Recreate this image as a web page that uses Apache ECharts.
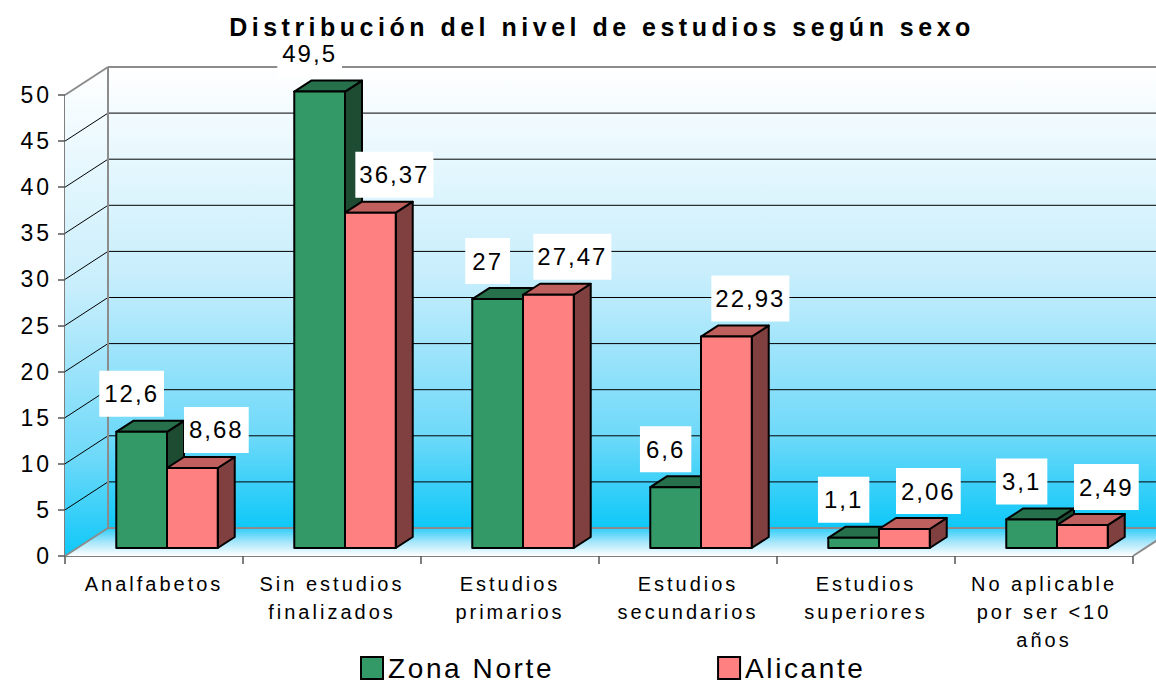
<!DOCTYPE html>
<html>
<head>
<meta charset="utf-8">
<script src="https://cdn.jsdelivr.net/npm/echarts@6/dist/echarts.min.js"></script>
<style>
  html, body { margin: 0; padding: 0; background: #fff; }
  #grafico { width: 1156px; height: 682px; }
  /* el original tiene el texto espaciado */
  #grafico text { letter-spacing: 3px; }
  #grafico text[style*="25px"] { letter-spacing: 4.5px; }
  #grafico text[style*="24px"] { letter-spacing: 2px; }
  #grafico text[style*="28px"] { letter-spacing: 2.6px; }
</style>
</head>
<body>
<div id="grafico"></div>
<script>
// datos
var categorias = ['Analfabetos', 'Sin estudios\nfinalizados', 'Estudios\nprimarios',
  'Estudios\nsecundarios', 'Estudios\nsuperiores', 'No aplicable\npor ser <10\naños'];
var zonaNorte = [12.6, 49.5, 27, 6.6, 1.1, 3.1];
var alicante = [8.68, 36.37, 27.47, 22.93, 2.06, 2.49];
var ticksY = [0, 5, 10, 15, 20, 25, 30, 35, 40, 45, 50];

var FUENTE = 'Liberation Sans, Arial, sans-serif';
// desplazamientos de la perspectiva (px)
var FONDO = [43, -28];      // pared del fondo
var PLANO_BARRA = [13, -8]; // cara frontal de las barras
var LADO = [17, -11];       // profundidad de cada barra

var myChart = echarts.init(document.getElementById('grafico'), null, { renderer: 'svg' });

function gradPared() {
  return new echarts.graphic.LinearGradient(0, 0, 0, 1, [
    { offset: 0, color: '#FFFFFF' },
    { offset: 0.45, color: '#C8EEFC' },
    { offset: 0.8, color: '#6ED9F9' },
    { offset: 1, color: '#0EC8F8' }
  ]);
}

function pintarParedes(params, api) {
  var cs = params.coordSys;
  var L = cs.x, R = cs.x + cs.width;
  var y0 = api.coord([0, ticksY[0]])[1];
  var yTop = api.coord([0, ticksY[ticksY.length - 1]])[1];
  var dx = FONDO[0], dy = FONDO[1];
  var gris = { stroke: '#8C8C8C', lineWidth: 2 };
  var hijos = [
    { type: 'rect', shape: { x: L + dx, y: yTop + dy, width: R - L, height: y0 - yTop }, style: { fill: gradPared() } },
    { type: 'polygon', shape: { points: [[L, y0], [L, yTop], [L + dx, yTop + dy], [L + dx, y0 + dy]] }, style: { fill: gradPared() } },
    { type: 'polygon', shape: { points: [[L, y0], [R, y0], [R + dx, y0 + dy], [L + dx, y0 + dy]] },
      style: { fill: new echarts.graphic.LinearGradient(0, 0, 0, 1, [
        { offset: 0, color: '#2ECDF9' }, { offset: 0.5, color: '#A6E6FB' }, { offset: 1, color: '#FFFFFF' }]) } }
  ];
  ticksY.forEach(function (v, k) {
    var y = api.coord([0, v])[1];
    var borde = (k === 0 || k === ticksY.length - 1);
    var est = borde ? gris : { stroke: '#000', lineWidth: 1 };
    hijos.push({ type: 'line', shape: { x1: L + dx, y1: y + dy, x2: R + dx, y2: y + dy }, style: est });
    hijos.push({ type: 'line', shape: { x1: L, y1: y, x2: L + dx, y2: y + dy }, style: est });
  });
  hijos.push({ type: 'line', shape: { x1: L + dx, y1: yTop + dy, x2: L + dx, y2: y0 + dy }, style: gris });
  hijos.push({ type: 'line', shape: { x1: R, y1: y0, x2: R + dx, y2: y0 + dy }, style: gris });
  return { type: 'group', children: hijos };
}

function hacerBarras(idx, col, desplLabel) {
  return function (params, api) {
    var i = params.dataIndex;
    var v = api.value(1);
    var arriba = api.coord([i, v]);
    var base = api.coord([i, 0]);
    var ancho = api.size([1, 0])[0] * 0.285;
    var x1 = arriba[0] - ancho + idx * ancho + PLANO_BARRA[0];
    var x2 = x1 + ancho;
    var yt = arriba[1] + PLANO_BARRA[1];
    var yb = base[1] + PLANO_BARRA[1];
    var dx = LADO[0], dy = LADO[1];
    function est(f) { return { fill: f, stroke: '#000', lineWidth: 2, lineJoin: 'round' }; }
    return {
      type: 'group',
      children: [
        { type: 'polygon', shape: { points: [[x2, yb], [x2 + dx, yb + dy], [x2 + dx, yt + dy], [x2, yt]] }, style: est(col.lado) },
        { type: 'polygon', shape: { points: [[x1, yt], [x2, yt], [x2 + dx, yt + dy], [x1 + dx, yt + dy]] }, style: est(col.tapa) },
        { type: 'rect', shape: { x: x1, y: yt, width: ancho, height: yb - yt }, style: est(col.frente) },
        { type: 'text', z2: 100, style: {
            text: String(v).replace('.', ','),
            x: (x1 + x2) / 2 + desplLabel, y: yt - 38,
            align: 'center', verticalAlign: 'middle',
            font: '24px ' + FUENTE, fill: '#000',
            backgroundColor: '#fff', padding: [11, 9]
        } }
      ]
    };
  };
}

option = {
  animation: false,
  backgroundColor: '#fff',
  title: {
    text: 'Distribución del nivel de estudios según sexo',
    left: 597, textAlign: 'center', top: 9,
    textStyle: { fontSize: 25, fontWeight: 'bold', color: '#000', fontFamily: FUENTE }
  },
  legend: {
    data: ['Zona Norte', 'Alicante'],
    left: 355, top: 649,
    icon: 'rect', itemWidth: 22, itemHeight: 22, itemGap: 189,
    itemStyle: { borderColor: '#000', borderWidth: 2 },
    textStyle: { fontSize: 28, lineHeight: 28, color: '#000', fontFamily: FUENTE }
  },
  grid: { left: 65, right: 23, top: 95, bottom: 126 },
  xAxis: {
    type: 'category',
    data: categorias,
    axisLine: { lineStyle: { color: '#555', width: 1.5 } },
    axisTick: { show: true, length: 8, lineStyle: { color: '#555', width: 1.5 } },
    axisLabel: { interval: 0, fontSize: 20, lineHeight: 28, margin: 14, color: '#000', fontFamily: FUENTE }
  },
  yAxis: {
    type: 'value',
    min: ticksY[0], max: ticksY[ticksY.length - 1], interval: ticksY[1] - ticksY[0],
    axisLine: { show: true, lineStyle: { color: '#555', width: 1.5 } },
    axisTick: { show: true, length: 7, lineStyle: { color: '#555', width: 1.5 } },
    splitLine: { show: false },
    axisLabel: { fontSize: 23, margin: 13, color: '#000', fontFamily: FUENTE }
  },
  series: [
    {
      name: 'paredes', type: 'custom', silent: true, z: 1,
      renderItem: pintarParedes,
      data: [[0, 0]]
    },
    {
      name: 'Zona Norte', type: 'custom', z: 2,
      itemStyle: { color: '#339966' },
      renderItem: hacerBarras(0, { frente: '#339966', tapa: '#26704B', lado: '#1D4C33' }, -10),
      data: zonaNorte.map(function (v, i) { return [i, v]; })
    },
    {
      name: 'Alicante', type: 'custom', z: 2,
      itemStyle: { color: '#FF8080' },
      renderItem: hacerBarras(1, { frente: '#FF8080', tapa: '#C0605E', lado: '#804040' }, 24),
      data: alicante.map(function (v, i) { return [i, v]; })
    }
  ]
};

myChart.setOption(option);
</script>
</body>
</html>
